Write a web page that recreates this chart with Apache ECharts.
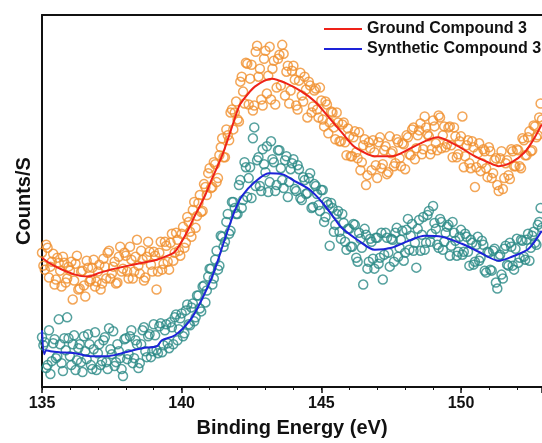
<!DOCTYPE html>
<html>
<head>
<meta charset="utf-8">
<script src="https://cdn.jsdelivr.net/npm/echarts@6/dist/echarts.min.js"></script>
<style>
  html, body { margin: 0; padding: 0; background: #fff; }
  #main { width: 542px; height: 443px; }
</style>
</head>
<body>
<div id="main"></div>
<script>
// binding energy axis
var xTicks = [135, 140, 145, 150];
var eMin = 135, eMax = 152.9;
var eStep = 0.1;

// raw counts (arb.), points at 135.00, 135.10, ... 152.90
var groundRawA = [
  135,118,140,121,134,108,125,101,125,109,
  117,88,124,98,116,102,127,106,120,101,
  116,98,129,109,137,114,126,105,141,119,
  132,109,128,116,148,114,128,110,146,123,
  136,98,135,118,146,126,145,127,155,137,
  154,140,171,156,178,160,185,176,204,193,
  220,201,224,210,241,231,259,248,279,276,
  269,307,297,326,284,324,283,343,320,283,
  338,313,289,328,301,334,344,293,323,298,
  323,283,308,293,312,271,303,282,300,271,
  288,262,284,266,276,249,266,247,266,233,
  252,232,257,230,218,243,203,246,218,236,
  210,251,224,242,216,235,222,249,230,245,
  219,251,233,261,240,258,234,272,254,234,
  268,245,273,240,262,244,262,231,252,234,
  252,221,243,225,247,201,235,217,239,220,
  241,210,228,203,230,199,225,213,239,222,
  239,222,250,233,251,237,263,251,271,269
];
// points at 135.05, 135.15, ... 152.85
var groundRawB = [
  122,143,110,126,103,130,117,131,105,121,
  126,107,132,99,117,91,120,108,128,106,
  123,104,121,135,109,121,104,131,116,135,
  116,141,109,131,122,137,107,131,136,116,
  132,116,146,124,142,118,154,135,148,132,
  161,145,166,151,186,172,193,177,201,215,
  200,226,206,233,250,231,253,276,259,287,
  267,312,285,325,310,278,337,312,289,330,
  295,342,320,284,330,303,335,317,285,318,
  309,279,316,287,299,307,276,298,279,301,
  269,287,255,277,261,276,247,264,246,260,
  232,251,236,256,226,249,213,240,248,223,
  246,220,238,214,252,237,225,246,222,244,
  253,234,259,229,253,265,239,261,252,239,
  262,238,271,253,241,261,243,261,231,247,
  272,232,248,220,241,221,245,225,237,211,
  237,215,230,197,237,210,228,209,237,222,
  238,220,248,233,257,238,262,253,285
];
var syntheticRawA = [
  50,45,22,13,44,29,68,24,49,70,
  31,43,17,39,25,51,28,43,18,55,
  34,22,47,25,59,33,21,43,29,11,
  49,33,57,29,43,24,57,36,51,30,
  63,37,61,35,57,44,65,43,73,58,
  74,54,83,62,84,70,92,76,102,97,
  119,103,128,118,152,141,166,154,186,180,
  174,208,188,221,210,190,261,228,202,239,
  216,196,247,226,203,238,208,228,191,219,
  229,197,219,188,208,195,215,181,202,183,
  198,166,186,142,180,163,177,149,165,138,
  159,141,163,126,149,103,153,126,146,119,
  150,130,108,155,135,149,126,160,140,157,
  135,169,152,137,120,168,153,138,173,146,
  182,159,140,166,146,161,132,166,147,136,
  158,136,151,122,145,126,151,130,143,115,
  135,117,139,99,133,109,142,122,141,118,
  149,130,147,128,154,140,156,143,166,160
];
var syntheticRawB = [
  42,19,57,26,48,31,43,16,37,49,
  22,52,27,43,15,36,53,22,38,17,
  43,26,50,18,38,56,25,36,18,48,
  28,51,24,47,19,43,60,30,53,36,
  52,34,64,42,63,39,60,70,47,69,
  51,77,63,80,66,92,79,101,85,111,
  119,109,137,122,151,146,174,157,186,174,
  203,180,226,191,221,250,202,231,197,224,
  242,206,229,197,238,220,200,232,206,225,
  199,223,190,211,194,210,180,204,194,177,
  198,171,183,185,156,174,156,174,146,159,
  141,164,130,155,140,159,119,149,129,150,
  124,155,133,150,121,148,155,131,148,127,
  158,138,164,145,159,137,171,145,177,154,
  165,143,169,138,155,163,142,155,132,151,
  133,154,136,148,123,143,127,147,117,136,
  118,137,105,131,113,139,123,145,122,139,
  125,148,131,148,127,152,145,163,180
];

// smoothed fits [eV, counts]
var groundFit = [
  [135.0,130],[135.3,124],[135.64,119],[136.18,113],[136.65,111],[137.08,115],[137.61,119],
  [138.26,123],[139.11,128],[139.5,132],[139.76,136],[140.12,152],[140.47,172],[140.83,192],
  [141.08,209],[141.44,232],[141.69,252],[142.05,282],[142.16,287],[142.62,302],[143.23,310],
  [143.69,306],[144.3,297],[144.77,287],[145.27,271],[145.73,256],[146.16,242],[146.45,237],
  [146.91,232],[147.52,232],[148.13,239],[148.7,247],[149.17,251],[149.63,246],[150.03,240],
  [150.49,232],[150.96,226],[151.35,222],[151.82,226],[152.28,236],[152.6,249],[152.89,264]
];
var syntheticFit = [
  [135.0,57],[135.08,33],[135.15,37],[135.3,36],[135.6,35],[136.18,34],[136.72,31],[137.33,31],
  [137.86,34],[138.58,39],[139.11,41],[139.29,47],[139.76,52],[140.3,67],[140.65,84],[141.12,113],
  [141.55,149],[141.9,177],[142.16,192],[142.62,206],[143.12,215],[143.59,214],[144.05,207],
  [144.55,199],[145.02,186],[145.48,169],[145.73,160],[146.34,147],[146.91,138],[147.52,140],
  [148.13,147],[148.7,152],[149.31,151],[150.03,144],[150.63,136],[151.35,127],[151.82,131],
  [152.42,139],[152.89,157]
];

// merge the two sampling grids into [eV, counts] pairs
function pairs(a, b) {
  var out = [];
  a.forEach(function (v, i) { out.push([+(eMin + i * eStep).toFixed(2), v]); });
  b.forEach(function (v, i) { out.push([+(eMin + eStep / 2 + i * eStep).toFixed(2), v]); });
  return out;
}

var myChart = echarts.init(document.getElementById('main'));
var font = 'Liberation Sans, Arial, sans-serif';
var black = '#111';

var option = {
  backgroundColor: '#fff',
  animation: false,
  textStyle: { fontFamily: font },
  grid: { left: 42, top: 15, right: 0, bottom: 54 },
  legend: {
    data: ['Ground Compound 3', 'Synthetic Compound 3'],
    orient: 'vertical',
    left: 324, top: 21, padding: 0,
    icon: 'rect', itemWidth: 38, itemHeight: 2, itemGap: 4,
    textStyle: { fontFamily: font, fontSize: 16, fontWeight: 'bold', color: black }
  },
  xAxis: [{
    // minor ticks every 1 eV, labels only at 135/140/145/150
    type: 'value', min: eMin, max: eMax, interval: 1,
    name: 'Binding Energy (eV)', nameLocation: 'middle', nameGap: 31,
    nameTextStyle: { fontSize: 20, fontWeight: 'bold', color: black },
    axisLine: { lineStyle: { color: black, width: 2 } },
    axisTick: { length: 3, lineStyle: { width: 1, color: black } },
    axisLabel: {
      fontSize: 16, fontWeight: 'bold', color: black, margin: 9, showMaxLabel: false,
      formatter: function (v) { return xTicks.indexOf(v) >= 0 ? String(v) : ''; }
    },
    splitLine: { show: false }
  }, {
    // major ticks
    type: 'value', min: eMin, max: eMax, interval: 5, position: 'bottom',
    axisLine: { show: false },
    axisTick: { length: 6, lineStyle: { width: 1.5, color: black } },
    axisLabel: { show: false }, splitLine: { show: false }
  }, {
    // top frame
    type: 'value', min: eMin, max: eMax, position: 'top',
    axisLine: { show: true, onZero: false, lineStyle: { color: black, width: 2 } },
    axisTick: { show: false }, axisLabel: { show: false }, splitLine: { show: false }
  }],
  yAxis: {
    type: 'value', min: 0, max: 374,
    name: 'Counts/S', nameLocation: 'middle', nameGap: 8,
    nameTextStyle: { fontSize: 20, fontWeight: 'bold', color: black },
    axisLine: { show: true, lineStyle: { color: black, width: 2 } },
    axisTick: { show: false }, axisLabel: { show: false }, splitLine: { show: false }
  },
  series: [
    {
      name: 'ground data', type: 'scatter', data: pairs(groundRawA, groundRawB),
      symbol: 'circle', symbolSize: 9,
      itemStyle: { color: 'rgba(0,0,0,0)', borderColor: '#f0902e', borderWidth: 1.5 }
    },
    {
      name: 'synthetic data', type: 'scatter', data: pairs(syntheticRawA, syntheticRawB),
      symbol: 'circle', symbolSize: 9,
      itemStyle: { color: 'rgba(0,0,0,0)', borderColor: '#2b8a86', borderWidth: 1.5 }
    },
    {
      name: 'Ground Compound 3', type: 'line', data: groundFit,
      smooth: 0.3, showSymbol: false, symbol: 'none',
      lineStyle: { color: '#ee2219', width: 2 }, itemStyle: { color: '#ee2219' }
    },
    {
      name: 'Synthetic Compound 3', type: 'line', data: syntheticFit,
      smooth: 0.3, showSymbol: false, symbol: 'none',
      lineStyle: { color: '#1d23d8', width: 2 }, itemStyle: { color: '#1d23d8' }
    }
  ]
};
myChart.setOption(option);
</script>
</body>
</html>
